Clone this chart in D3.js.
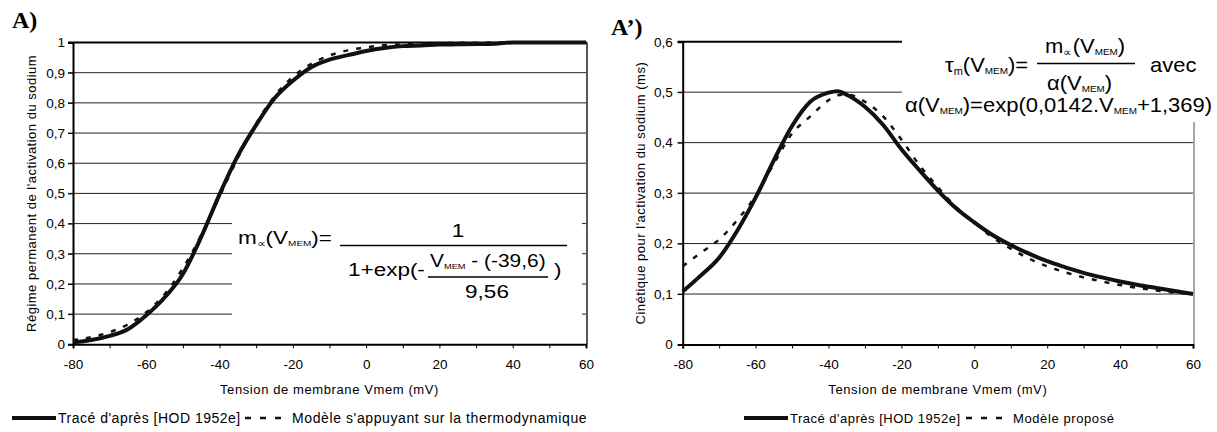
<!DOCTYPE html>
<html>
<head>
<meta charset="utf-8">
<script src="https://cdn.jsdelivr.net/npm/d3@7/dist/d3.min.js"></script>
<style>
  body { margin: 0; background: #fff; }
  svg text { font-family: "Liberation Sans", Arial, sans-serif; fill: #000; }
</style>
</head>
<body>
<svg id="fig" width="1217" height="432"></svg>
<script>
// membrane voltage (mV) sampled every 5 mV
var vmemA = [-80, -75, -70, -65, -60, -55, -50, -45, -40, -35, -30, -25, -20, -15, -10, -5, 0, 5, 10, 15, 20, 25, 30, 35, 40, 45, 50, 55, 60]
// A) steady state m (read from the figure)
var mInfHod = [0.006, 0.014, 0.028, 0.050, 0.096, 0.155, 0.233, 0.356, 0.497, 0.625, 0.727, 0.815, 0.873, 0.918, 0.943, 0.958, 0.972, 0.982, 0.988, 0.990, 0.993, 0.994, 0.995, 0.996, 1.0, 1.0, 1.0, 1.0, 1.0]
var mInfModel = [0.014, 0.024, 0.040, 0.066, 0.106, 0.166, 0.252, 0.362, 0.490, 0.618, 0.732, 0.822, 0.886, 0.929, 0.957, 0.974, 0.984, 0.991, 0.994, 0.997, 0.998, 0.999, 0.999, 1.0, 1.0, 1.0, 1.0, 1.0, 1.0]

// A') time constant (ms)
var vmemB = [-80, -75, -70, -65, -60, -55, -50, -45, -40, -37.5, -35, -30, -25, -20, -15, -10, -5, 0, 5, 10, 15, 20, 25, 30, 35, 40, 45, 50, 55, 60]
var tauHod = [0.105, 0.137, 0.172, 0.226, 0.291, 0.365, 0.433, 0.481, 0.499, 0.502, 0.495, 0.471, 0.435, 0.387, 0.345, 0.305, 0.270, 0.242, 0.217, 0.197, 0.180, 0.165, 0.153, 0.142, 0.133, 0.125, 0.118, 0.112, 0.106, 0.100]
var tauModel = [0.155, 0.182, 0.208, 0.247, 0.295, 0.358, 0.418, 0.452, 0.484, 0.494, 0.495, 0.481, 0.452, 0.406, 0.355, 0.312, 0.272, 0.242, 0.212, 0.190, 0.170, 0.155, 0.143, 0.133, 0.125, 0.118, 0.112, 0.107, 0.103, 0.100]

var xTicks = [-80, -70, -60, -50, -40, -30, -20, -10, 0, 10, 20, 30, 40, 50, 60]
var yTicksA = [0, 0.1, 0.2, 0.3, 0.4, 0.5, 0.6, 0.7, 0.8, 0.9, 1]
var yTicksB = [0, 0.1, 0.2, 0.3, 0.4, 0.5, 0.6]

var xTitle = "Tension de membrane Vmem (mV)"
var legendHod = "Tracé d'après [HOD 1952e]"

var fr = d3.formatLocale({decimal: ",", thousands: " ", grouping: [3], currency: ["", ""]})
var fmtY = fr.format("~g")

var svg = d3.select("#fig")

function panel(cfg) {
    var x = d3.scaleLinear().domain([-80, 60]).range([cfg.left, cfg.right])
    var y = d3.scaleLinear().domain([0, cfg.yMax]).range([cfg.bottom, cfg.top])
    var g = svg.append("g")

    // grid lines
    g.selectAll(".grid")
        .data(cfg.yTicks.filter(d => d > 0 && d < cfg.yMax))
        .join("line")
        .attr("x1", cfg.left - 5)
        .attr("x2", cfg.right)
        .attr("y1", d => y(d))
        .attr("y2", d => y(d))
        .attr("stroke", "#222")
        .attr("stroke-width", 1)

    // plot frame
    g.append("line")
        .attr("x1", cfg.left - 5).attr("x2", cfg.right + 1)
        .attr("y1", y(cfg.yMax)).attr("y2", y(cfg.yMax))
        .attr("stroke", "#000").attr("stroke-width", 2)
    g.append("line")
        .attr("x1", cfg.right + 1).attr("x2", cfg.right + 1)
        .attr("y1", y(cfg.yMax)).attr("y2", y(0))
        .attr("stroke", cfg.rightColor).attr("stroke-width", 1.5)

    // formula box hides part of the grid
    g.append("rect")
        .attr("x", cfg.box[0]).attr("y", cfg.box[1])
        .attr("width", cfg.box[2]).attr("height", cfg.box[3])
        .attr("fill", "#fff")

    // y axis
    var yAxis = g.append("g")
        .attr("transform", `translate(${cfg.left},0)`)
        .call(d3.axisLeft(y).tickValues(cfg.yTicks).tickSize(5).tickPadding(cfg.yPad).tickFormat(fmtY))
    yAxis.select(".domain").attr("stroke-width", 2)
    yAxis.selectAll(".tick line").attr("stroke", "#000")
    yAxis.selectAll("text").style("font-size", "13.5px")

    // x axis
    var xAxis = g.append("g")
        .attr("transform", `translate(0,${cfg.bottom})`)
        .call(d3.axisBottom(x).tickValues(xTicks).tickSize(4).tickPadding(11)
            .tickFormat(d => d % 20 === 0 ? d : ""))
    xAxis.select(".domain").attr("stroke-width", 2)
    xAxis.selectAll("text").style("font-size", "13.5px")

    // axis titles
    g.append("text")
        .attr("x", (cfg.left + cfg.right) / 2)
        .attr("y", 394)
        .attr("text-anchor", "middle")
        .style("font-size", "13px")
        .style("letter-spacing", "0.6px")
        .text(xTitle)
    g.append("text")
        .attr("transform", `translate(${cfg.yTitleX},${(cfg.top + cfg.bottom) / 2}) rotate(-90)`)
        .attr("text-anchor", "middle")
        .style("font-size", "13px")
        .style("letter-spacing", "0.5px")
        .text(cfg.yTitle)

    // curves
    var line = d3.line().curve(d3.curveMonotoneX)
    g.append("path")
        .attr("d", line(cfg.vmem.map((v, i) => [x(v), y(cfg.hod[i])])))
        .attr("fill", "none")
        .attr("stroke", "#111")
        .attr("stroke-width", 4)
    g.append("path")
        .attr("d", line(cfg.vmem.map((v, i) => [x(v), y(cfg.model[i])])))
        .attr("fill", "none")
        .attr("stroke", "#111")
        .attr("stroke-width", 2.5)
        .attr("stroke-dasharray", "5,8")

    // panel letter
    g.append("text")
        .attr("x", cfg.letter[0]).attr("y", cfg.letter[1])
        .style("font-family", "'Liberation Serif', 'Times New Roman', serif")
        .style("font-weight", "bold")
        .style("font-size", "24px")
        .text(cfg.letterText)

    // legend
    var lg = g.append("g").attr("transform", `translate(${cfg.legend[0]},418)`)
    lg.append("line").attr("x1", 0).attr("x2", 44).attr("stroke", "#111").attr("stroke-width", 4)
    lg.append("text").attr("x", 46).attr("y", 5)
        .style("font-size", cfg.legendFont).style("letter-spacing", "0.5px").text(legendHod)
    lg.append("line").attr("x1", cfg.legend[1]).attr("x2", cfg.legend[1] + 45)
        .attr("stroke", "#111").attr("stroke-width", 2.5).attr("stroke-dasharray", "6,9")
    lg.append("text").attr("x", cfg.legend[1] + 47).attr("y", 5)
        .style("font-size", cfg.legendFont).style("letter-spacing", "0.6px").text(cfg.modelLabel)

    return g
}

panel({
    left: 73, right: 586, top: 42.5, bottom: 344.3, yMax: 1, yTicks: yTicksA, yPad: 3,
    vmem: vmemA, hod: mInfHod, model: mInfModel,
    rightColor: "#222", box: [232, 200, 350, 128],
    yTitle: "Régime permanent de l'activation du sodium", yTitleX: 36,
    letter: [12, 28], letterText: "A)",
    legend: [12, 233], legendFont: "14px", modelLabel: "Modèle s'appuyant sur la thermodynamique"
})

panel({
    left: 682.7, right: 1193, top: 41.7, bottom: 344.5, yMax: 0.6, yTicks: yTicksB, yPad: 5,
    vmem: vmemB, hod: tauHod, model: tauModel,
    rightColor: "#888", box: [902, 0, 315, 122],
    yTitle: "Cinétique pour l'activation du sodium (ms)", yTitleX: 645,
    letter: [611, 35], letterText: "A’)",
    legend: [744, 222], legendFont: "13px", modelLabel: "Modèle proposé"
})

// formulas (the equation objects are stretched horizontally in the original)
function ftext(x, y, size, sx, anchor) {
    return svg.append("text")
        .attr("transform", `translate(${x},${y}) scale(${sx},1)`)
        .attr("text-anchor", anchor || "start")
        .style("font-size", size + "px")
}
function sub(t, s, size) {
    t.append("tspan").attr("baseline-shift", "-25%").style("font-size", size + "px").text(s)
}
function seg(t, s) { t.append("tspan").text(s) }
function hbar(x1, x2, yy) {
    svg.append("line").attr("x1", x1).attr("x2", x2).attr("y1", yy).attr("y2", yy)
        .attr("stroke", "#000").attr("stroke-width", 1.3)
}

// left formula
var fA = 18, sA = 1.25
var t = ftext(238, 244, fA, sA)
seg(t, "m"); sub(t, "∝", 10); seg(t, "(V"); sub(t, "MEM", 8); seg(t, ")=")
ftext(458, 237, fA, sA, "middle").text("1")
hbar(340, 567, 245.5)
ftext(348, 276, fA, sA).text("1+exp(-")
t = ftext(430, 267, fA, 1.16)
seg(t, "V"); sub(t, "MEM", 8); seg(t, " - (-39,6)")
hbar(428, 548, 277)
ftext(487, 298, fA, sA, "middle").text("9,56")
ftext(554, 276, fA, sA).text(")")

// right formula
var fB = 20, sB = 1.1
t = ftext(945, 72, fB, sB)
seg(t, "τ"); sub(t, "m", 10); seg(t, "(V"); sub(t, "MEM", 9); seg(t, ")=")
t = ftext(1045, 53, fB, sB)
seg(t, "m"); sub(t, "∝", 11); seg(t, "(V"); sub(t, "MEM", 9); seg(t, ")")
hbar(1037, 1135, 63.5)
t = ftext(1047, 90, fB, sB)
seg(t, "α(V"); sub(t, "MEM", 9); seg(t, ")")
ftext(1150, 72, fB, sB).text("avec")
t = ftext(905, 112, fB, sB)
seg(t, "α(V"); sub(t, "MEM", 9); seg(t, ")=exp(0,0142.V"); sub(t, "MEM", 9); seg(t, "+1,369)")
</script>
</body>
</html>
